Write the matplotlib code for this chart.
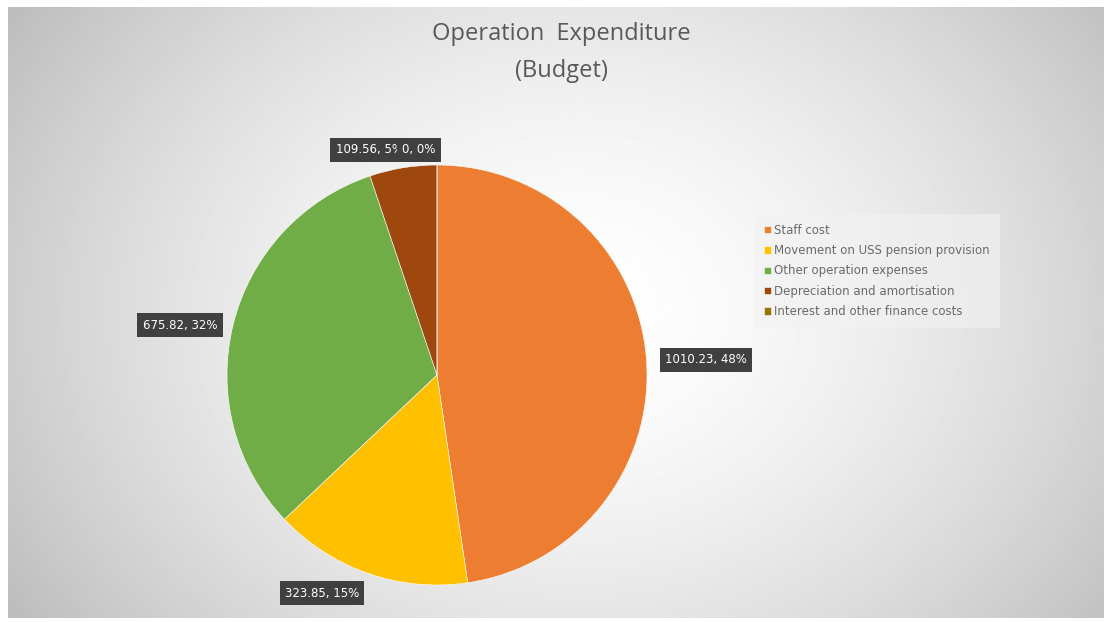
import numpy as np
import matplotlib.pyplot as plt

# data
categories = ['Staff cost', 'Movement on USS pension provision', 'Other operation expenses',
              'Depreciation and amortisation', 'Interest and other finance costs']
values = [1010.23, 323.85, 675.82, 109.56, 0]
colors = ['#ED7D31', '#FFC000', '#70AD47', '#9E480E', '#997300']

W, H = 1110, 622
fig = plt.figure(figsize=(W / 100, H / 100), dpi=100)
fig.patch.set_facecolor('white')

# background with radial gradient
bg = fig.add_axes([8 / W, 4 / H, 1096 / W, 611 / H])
yy, xx = np.mgrid[0:1:300j, 0:1:600j]
r = np.sqrt(((xx - 0.52) / 0.62) ** 2 + ((yy - 0.5) / 0.9) ** 2)
shade = np.clip(1.0 - 0.26 * r ** 1.6, 0.74, 1.0)
bg.imshow(shade, cmap='gray', vmin=0, vmax=1, aspect='auto', extent=[0, 1, 0, 1])
bg.axis('off')

# pie axes in pixel coordinates
ax = fig.add_axes([0, 0, 1, 1])
cx, cy, R = 437, H - 375, 210
wedges, _ = ax.pie(values, colors=colors, startangle=90, counterclock=False,
                   center=(cx, cy), radius=R, frame=True,
                   wedgeprops=dict(linewidth=0.4, edgecolor='white'))
ax.set_xlim(0, W)
ax.set_ylim(0, H)
ax.axis('off')

total = sum(values)
# callout box centres (pixels, top-left origin)
label_pos = [(706, 360), (322, 593), (180, 325), (369, 150), (419, 150)]
for v, (lx, ly) in zip(values, label_pos):
    if v:
        txt = f'{v:.2f}, {round(v / total * 100):.0f}%'
    else:
        txt = '0, 0%'
    ax.text(lx, H - ly, txt, ha='center', va='center', fontsize=8.5,
            color='white', family='DejaVu Sans',
            bbox=dict(boxstyle='square,pad=0.45', fc='#404040', ec='none'))

fig.text(561 / W, 1 - 34 / H, 'Operation  Expenditure', ha='center', va='center',
         fontsize=17, color='#595959', family='Open Sans')
fig.text(561 / W, 1 - 71 / H, '(Budget)', ha='center', va='center',
         fontsize=17, color='#595959', family='Open Sans')

leg = ax.legend(wedges, categories, loc='upper left',
                bbox_to_anchor=(752 / W, 1 - 212 / H), bbox_transform=fig.transFigure,
                frameon=True, handlelength=0.6, handleheight=0.6,
                handletextpad=0.3, labelspacing=0.62, borderpad=0.5,
                prop={'family': 'DejaVu Sans', 'size': 8.5})
leg.get_frame().set_facecolor('#f2f2f2')
leg.get_frame().set_edgecolor('none')
leg.get_frame().set_alpha(0.6)
leg.get_frame().set_boxstyle('square')
for t in leg.get_texts():
    t.set_color('#6a6a6a')

fig.savefig('out.png', dpi=100)
